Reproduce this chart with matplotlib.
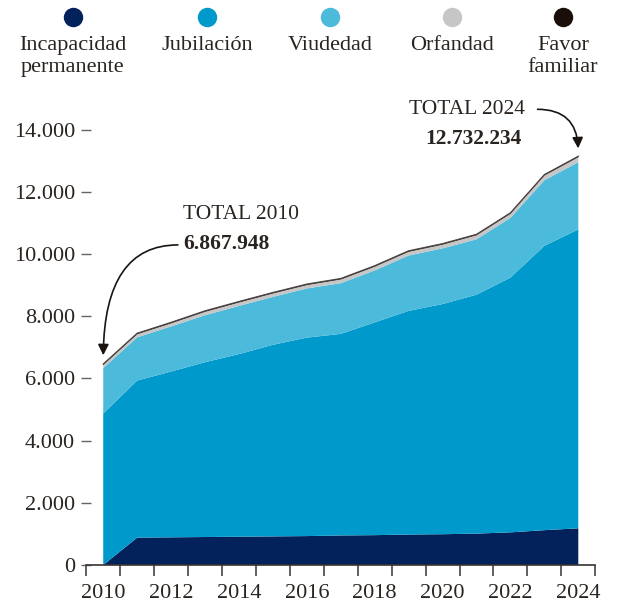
import numpy as np
import matplotlib
matplotlib.use("Agg")
import matplotlib.pyplot as plt
from matplotlib.lines import Line2D

plt.rcParams['font.family'] = ['Liberation Serif', 'DejaVu Serif']

# Nomina mensual de pensiones (millones de euros)
years = list(range(2010, 2025))
incapacidad = [0, 880, 890, 900, 910, 920, 930, 950, 960, 980, 990, 1010, 1050, 1120, 1180]
jubilacion = [4870, 5050, 5330, 5620, 5870, 6160, 6380, 6480, 6840, 7190, 7400, 7680, 8190, 9140, 9610]
viudedad = [1460, 1390, 1450, 1510, 1550, 1540, 1580, 1630, 1670, 1780, 1790, 1780, 1920, 2110, 2160]
orfandad = [100, 100, 100, 110, 110, 110, 110, 120, 120, 120, 120, 130, 130, 150, 160]
favor = [30, 30, 30, 30, 30, 30, 30, 30, 30, 30, 30, 30, 30, 30, 30]

series_names = ["Incapacidad\npermanente", "Jubilación", "Viudedad", "Orfandad", "Favor\nfamiliar"]
colors = ["#03215a", "#0099cb", "#4cbadb", "#c6c6c6", "#1a0f08"]

total_labels = {2010: "6.867.948", 2024: "12.732.234"}
yticks = [0, 2000, 4000, 6000, 8000, 10000, 12000, 14000]
xlabels = [2010, 2012, 2014, 2016, 2018, 2020, 2022, 2024]

text_col = "#2a2420"

fig = plt.figure(figsize=(6.22, 6.03), dpi=100)
ax = fig.add_axes([0.1387, 0.063, 0.8183, 0.7222])

data = [incapacidad, jubilacion, viudedad, orfandad, favor]
ax.stackplot(years, *data, colors=colors, linewidth=0)
top = np.sum(np.array(data), axis=0)
ax.plot(years, top, color="#4a4340", lw=0.9, solid_joinstyle='miter')

ax.set_xlim(2009.5, 2024.5)
ax.set_ylim(0, 14000)

for s in ["top", "right", "left"]:
    ax.spines[s].set_visible(False)
ax.spines["bottom"].set_color("#3a3431")
ax.spines["bottom"].set_linewidth(1.2)

ax.set_yticks(yticks)
ax.set_yticklabels([f"{v:,}".replace(",", ".") for v in yticks])
ax.tick_params(axis='y', direction='inout', length=7, width=1, color="#6a6461",
               pad=4.5, labelsize=16, labelcolor=text_col)

ax.set_xticks(xlabels)
ax.set_xticklabels([str(y) for y in xlabels])
ax.set_xticks(np.arange(2009.5, 2025, 1.0), minor=True)
ax.tick_params(axis='x', which='major', length=0, pad=14, labelsize=16, labelcolor=text_col)
ax.tick_params(axis='x', which='minor', direction='out', length=8, width=1.1, color="#3a3431")

# anotaciones de totales
arrow = dict(arrowstyle='-|>', color="#1a1410", lw=1.2, mutation_scale=16,
             connectionstyle="angle3,angleA=0,angleB=90", shrinkA=0, shrinkB=3)
ax.text(2012.35, 11280, "TOTAL 2010", fontsize=15.5, color=text_col, va='center', ha='left')
ax.text(2012.35, 10320, total_labels[2010], fontsize=15.5, fontweight='bold', color=text_col,
        va='center', ha='left')
ax.annotate("", xy=(2010.0, top[0] + 150), xytext=(2012.2, 10290), arrowprops=arrow,
            annotation_clip=False)

ax.text(2022.44, 14650, "TOTAL 2024", fontsize=15.5, color=text_col, va='center', ha='right',
        clip_on=False)
ax.text(2022.32, 13690, total_labels[2024], fontsize=15.5, fontweight='bold', color=text_col,
        va='center', ha='right', clip_on=False)
ax.annotate("", xy=(2024.0, top[-1] + 120), xytext=(2022.8, 14650), arrowprops=arrow,
            annotation_clip=False)

# leyenda
leg_x = [0.117, 0.333, 0.531, 0.727, 0.905]
for x, name, c in zip(leg_x, series_names, colors):
    fig.add_artist(Line2D([x], [0.971], marker='o', markersize=14, color=c,
                          markeredgewidth=0, transform=fig.transFigure))
    fig.text(x, 0.94, name, ha='center', va='top', fontsize=16, color=text_col,
             linespacing=1.2)

fig.savefig("out.png", dpi=100)
